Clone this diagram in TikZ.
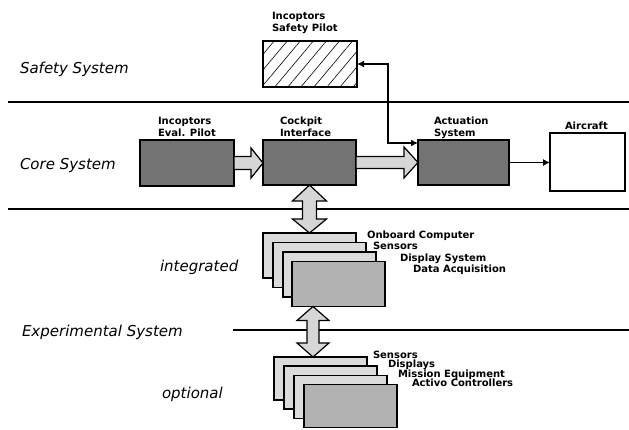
\documentclass[tikz,border=0pt]{standalone}
\usepackage{fontspec}
\setmainfont{DejaVu Sans}
\usetikzlibrary{patterns.meta,arrows.meta,calc}
\begin{document}
\begin{tikzpicture}[x=1pt,y=-1pt,
  every node/.style={inner sep=0pt, outer sep=0pt},
  coreb/.style={draw, line width=1.6pt, fill=black!55, anchor=north west, minimum width=#1, minimum height=46pt},
  card/.style={draw, line width=1.3pt, fill=black!14, anchor=north west, minimum width=93pt, minimum height=#1},
  frontcard/.style={card=#1, fill=black!30},
  fat/.style={draw, line width=1.2pt, fill=black!16, line join=miter},
  sep/.style={line width=1.1pt},
  lab/.style={font=\fontsize{10}{11.5}\selectfont\bfseries, align=left, anchor=north west},
  clab/.style={font=\fontsize{10}{11.5}\selectfont\bfseries, anchor=base west},
  side/.style={font=\fontsize{15}{17}\selectfont\itshape, anchor=base west},
  thinarr/.style={line width=1.2pt, -{Latex[length=7pt,width=7pt]}},
  fb/.style={line width=1.4pt, {Latex[length=7pt,width=7pt]}-{Latex[length=7pt,width=7pt]}}
]
\useasboundingbox (0,0) rectangle (629,430);

% separator lines
\draw[sep] (8,102) -- (629,102);
\draw[sep] (8,209) -- (629,209);
\draw[sep] (233,330) -- (629,330);

% side labels
\node[side] (lsafe) at (20,73.5) {Safety System};
\node[side] (lcore) at (20,170) {Core System};
\node[side] (linteg) at (160,271.5) {integrated};
\node[side] (lexp) at (22,336.5) {Experimental System};
\node[side] (lopt) at (162,398) {optional};

% safety box
\node[draw, line width=1.6pt, anchor=north west, minimum width=94pt, minimum height=46pt,
      pattern={Lines[angle=50,distance=10pt,line width=0.6pt]}] (safe) at (263,41) {};
\node[lab] (tsafe) at (272,12.7) {Incoptors\\Safety Pilot};

% core boxes
\node[coreb=94pt] (inc) at (140,140) {};
\node[coreb=93pt, minimum height=45pt] (cock) at (263,140) {};
\node[coreb=91pt, minimum height=45pt] (act) at (418,140) {};
\node[draw, line width=1.4pt, fill=white, anchor=north west, minimum width=75pt, minimum height=58pt] (air) at (550,133) {};

\node[lab] (tinc) at (158,117.3) {Incoptors\\Eval. Pilot};
\node[lab] (tcock) at (280,117.3) {Cockpit\\Interface};
\node[lab] (tact) at (434,117.3) {Actuation\\System};
\node[lab] (tair) at (565,121.5) {Aircraft};

% integrated cards
\node[card=45pt] (i1) at (263,233) {};
\node[card=45pt] (i2) at (273,242.5) {};
\node[card=45pt] (i3) at (283,252) {};
\node[frontcard=45pt] (i4) at (292,261.5) {};
\node[clab] (ti1) at (367,238.5) {Onboard Computer};
\node[clab] (ti2) at (373,250) {Sensors};
\node[clab] (ti3) at (400,261.5) {Display System};
\node[clab] (ti4) at (413,273) {Data Acquisition};

% optional cards
\node[card=43pt] (o1) at (274,357) {};
\node[card=43pt] (o2) at (284,366) {};
\node[card=43pt] (o3) at (294,375.5) {};
\node[frontcard=43pt] (o4) at (304,384.5) {};
\node[clab] (to1) at (373,358) {Sensors};
\node[clab] (to2) at (388,367.5) {Displays};
\node[clab] (to3) at (398,377) {Mission Equipment};
\node[clab] (to4) at (412,386.5) {Activo Controllers};

% fat arrows
\draw[fat] let \p1=(inc.east), \p2=(cock.west) in
  (\x1,\y1+6.5pt) -- (\x2-12pt,\y1+6.5pt) -- (\x2-12pt,\y1+15pt) -- (\x2,\y1)
  -- (\x2-12pt,\y1-15pt) -- (\x2-12pt,\y1-6.5pt) -- (\x1,\y1-6.5pt) -- cycle;
\draw[fat] let \p1=(cock.east), \p2=(act.west) in
  (\x1,\y1+6pt) -- (\x2-14pt,\y1+6pt) -- (\x2-14pt,\y1+15.5pt) -- (\x2,\y1)
  -- (\x2-14pt,\y1-15.5pt) -- (\x2-14pt,\y1-6pt) -- (\x1,\y1-6pt) -- cycle;
\draw[fat] let \p1=(cock.south), \p2=(i1.north) in
  (\x1,\y1) -- (\x1+17pt,\y1-16pt) -- (\x1+7pt,\y1-16pt) -- (\x1+7pt,\y2+14pt)
  -- (\x1+17pt,\y2+14pt) -- (\x1,\y2) -- (\x1-17pt,\y2+14pt) -- (\x1-7pt,\y2+14pt)
  -- (\x1-7pt,\y1-16pt) -- (\x1-17pt,\y1-16pt) -- cycle;
\coordinate (d2) at ($(i4.south west)+(21,0)$);
\draw[fat] let \p1=(d2), \p2=(o1.north) in
  (\x1,\y1) -- (\x1+16pt,\y1-14pt) -- (\x1+6pt,\y1-14pt) -- (\x1+6pt,\y2+14pt)
  -- (\x1+16pt,\y2+14pt) -- (\x1,\y2) -- (\x1-16pt,\y2+14pt) -- (\x1-6pt,\y2+14pt)
  -- (\x1-6pt,\y1-14pt) -- (\x1-16pt,\y1-14pt) -- cycle;

% thin connectors
\draw[thinarr] (act.east) -- (act.east -| air.west);
\coordinate (actin) at ($(act.north west)+(0,3)$);
\draw[fb] (safe.east) -| ($(actin)+(-30,0)$) -- (actin);
\end{tikzpicture}
\end{document}
